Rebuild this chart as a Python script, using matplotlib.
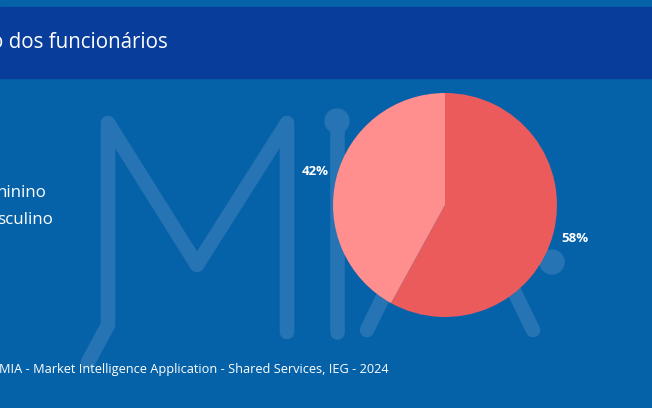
import numpy as np
import matplotlib.pyplot as plt
from matplotlib.patches import Rectangle, Circle

# data
categories = ['Feminino', 'Masculino']
values = [58, 42]
legend_visible = ['ninino', 'sculino']   # legend is cut at the left edge
title_visible = 'o dos funcionários'
footer = 'MIA - Market Intelligence Application - Shared Services, IEG - 2024'

bg = '#0662A8'
banner = '#083D9C'
wm = '#2674B4'
slice_colors = ['#EC5B5B', '#FF8E8E']

W, H = 652, 408
fig = plt.figure(figsize=(W / 100, H / 100), dpi=100)
fig.patch.set_facecolor(bg)

# background axes in pixel coordinates
bga = fig.add_axes([0, 0, 1, 1])
bga.set_xlim(0, W)
bga.set_ylim(H, 0)
bga.axis('off')

bga.add_patch(Rectangle((0, 7), W, 71, color=banner, zorder=1))
bga.text(-9, 43, title_visible, color='white', fontsize=14.8, family='Open Sans',
         va='center', ha='left')

# watermark "MIA"
lw = 10.5
kw = dict(color=wm, lw=lw, solid_capstyle='round', solid_joinstyle='round', zorder=1)
bga.plot([88, 108, 108, 197, 287, 287], [362, 325, 123, 265, 123, 332], **kw)
bga.plot([337, 337], [125, 332], **kw)
bga.add_patch(Circle((337, 121), 12, color=wm, zorder=1))
bga.plot([367, 450, 533], [330, 160, 330], **kw)
bga.add_patch(Circle((552, 262), 12, color=wm, zorder=1))

# legend texts (cut)
bga.text(-3, 193, legend_visible[0], color='white', fontsize=12.2, family='Open Sans', va='center')
bga.text(-3, 220, legend_visible[1], color='white', fontsize=12.2, family='Open Sans', va='center')

bga.text(-1, 369, footer, color='white', fontsize=9.15, family='Open Sans', va='center')

# pie
cx, cy, r = 445, 205, 112
pa = fig.add_axes([(cx - r) / W, (H - cy - r) / H, 2 * r / W, 2 * r / H])
pa.pie(values, colors=slice_colors, startangle=90, counterclock=False,
       labels=[f'{v}%' for v in values], labeldistance=1.2,
       textprops=dict(color='white', fontsize=9.5, fontweight='bold', family='Open Sans'))
for t in pa.texts:
    t.set_ha('center')
pa.set_xlim(-1, 1)
pa.set_ylim(-1, 1)
pa.set_aspect('equal')

fig.savefig('out.png', dpi=100, facecolor=bg)
